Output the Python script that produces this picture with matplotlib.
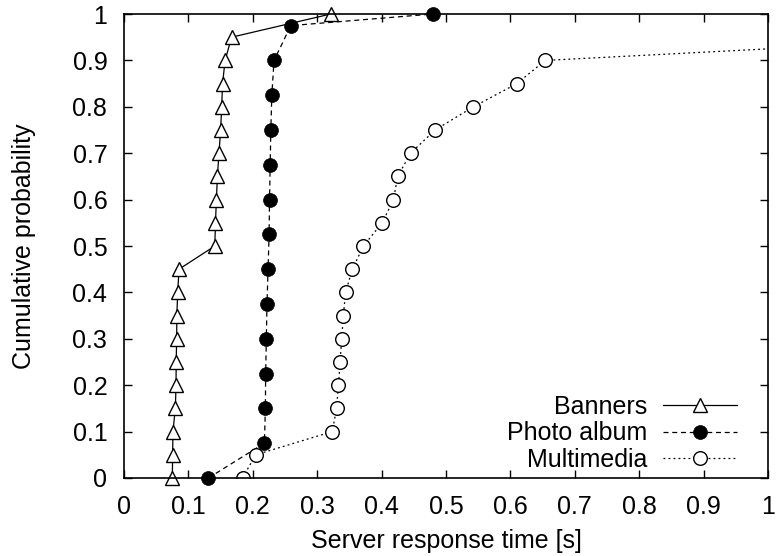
import matplotlib
matplotlib.use("Agg")
import matplotlib.pyplot as plt

plt.rcParams['font.family'] = ['Liberation Sans', 'DejaVu Sans']

# Banners: cumulative probability vs response time
banners_p = [0.0, 0.05, 0.1, 0.15, 0.2, 0.25, 0.3, 0.35, 0.4, 0.45, 0.5,
             0.55, 0.6, 0.65, 0.7, 0.75, 0.8, 0.85, 0.9, 0.95, 1.0]
banners_t = [0.075, 0.0755, 0.076, 0.0797, 0.0808, 0.081, 0.0818, 0.082, 0.0834, 0.0854, 0.141,
             0.142, 0.1435, 0.145, 0.1475, 0.150, 0.1517, 0.153, 0.157, 0.167, 0.321]

# Photo album
photo_p = [0.0, 0.075, 0.15, 0.225, 0.3, 0.375, 0.45, 0.525,
           0.6, 0.675, 0.75, 0.825, 0.9, 0.975, 1.0]
photo_t = [0.131, 0.218, 0.2195, 0.220, 0.221, 0.222, 0.2237, 0.2253,
           0.226, 0.227, 0.228, 0.2295, 0.233, 0.259, 0.4795]

# Multimedia (last points are off the chart)
multi_p = [0.0, 0.05, 0.1, 0.15, 0.2, 0.25, 0.3, 0.35, 0.4, 0.45, 0.5,
           0.55, 0.6, 0.65, 0.7, 0.75, 0.8, 0.85, 0.9, 0.95, 1.0]
multi_t = [0.184, 0.2045, 0.3235, 0.330, 0.333, 0.3355, 0.338, 0.3406, 0.344, 0.3546, 0.3717,
           0.401, 0.4184, 0.425, 0.445, 0.483, 0.5425, 0.610, 0.654, 1.35, 2.0]

ticks = [0, 0.1, 0.2, 0.3, 0.4, 0.5, 0.6, 0.7, 0.8, 0.9, 1]
tick_labels = ["0", "0.1", "0.2", "0.3", "0.4", "0.5", "0.6", "0.7", "0.8", "0.9", "1"]

fs = 18

fig = plt.figure(figsize=(7.76, 5.56), dpi=100)
ax = fig.add_axes([0.1598, 0.1403, 0.8299, 0.8345])

ax.plot(banners_t, banners_p, color='black', linestyle='-', linewidth=0.9,
        marker='^', markersize=9.5, markerfacecolor='white', markeredgecolor='black',
        markeredgewidth=1.0, label='Banners', clip_on=False)
ax.plot(photo_t, photo_p, color='black', linestyle=(0, (4, 3)), linewidth=0.9,
        marker='o', markersize=10, markerfacecolor='black', markeredgecolor='black',
        markeredgewidth=0.5, label='Photo album', clip_on=False)
ax.plot(multi_t, multi_p, color='black', linestyle=(0, (1.5, 2.5)), linewidth=0.9,
        marker='o', markersize=9.8, markerfacecolor='white', markeredgecolor='black',
        markeredgewidth=1.0, label='Multimedia')

ax.set_xlim(0, 1)
ax.set_ylim(0, 1)
ax.set_xticks(ticks)
ax.set_xticklabels(tick_labels)
ax.set_yticks(ticks)
ax.set_yticklabels(tick_labels)
ax.tick_params(direction='in', length=6, width=1, top=True, right=True,
               labelsize=fs)
ax.tick_params(axis='x', pad=12.5)
ax.tick_params(axis='y', pad=12)
for s in ax.spines.values():
    s.set_linewidth(1.2)

ax.set_xlabel('Server response time [s]', fontsize=fs, labelpad=7)
ax.set_ylabel('Cumulative probability', fontsize=fs, labelpad=26)

ax.legend(loc='lower right', bbox_to_anchor=(0.952, 0.0125), frameon=False,
          markerfirst=False, fontsize=fs, handlelength=2.96, handletextpad=0.64,
          labelspacing=0.11, borderpad=0, borderaxespad=0, numpoints=1)

fig.savefig('out.png', dpi=100)
